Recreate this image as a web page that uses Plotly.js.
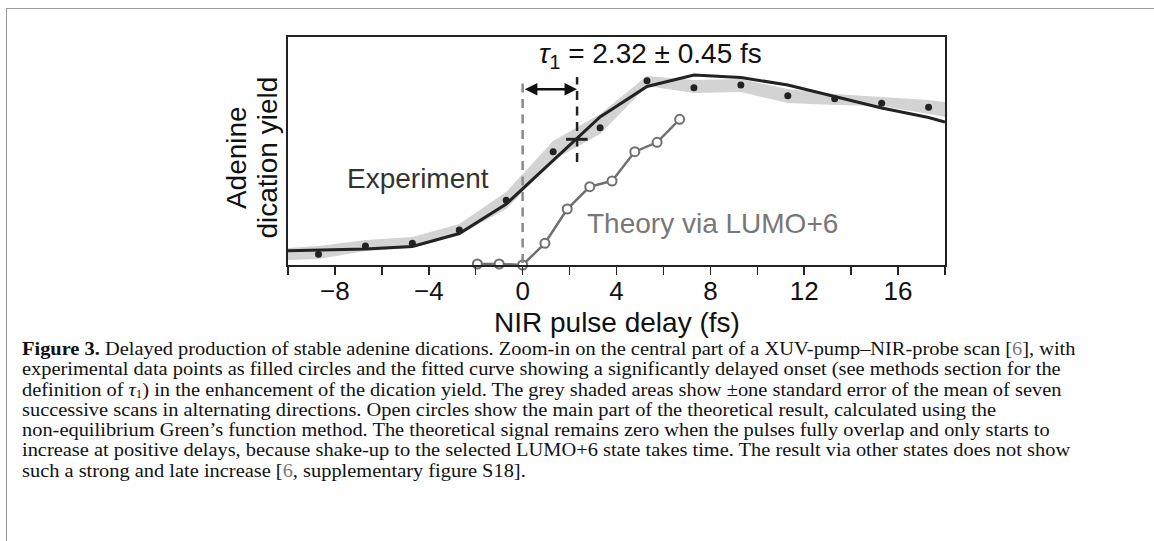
<!DOCTYPE html>
<html><head><meta charset="utf-8">
<script src="https://cdn.plot.ly/plotly-3.0.1.min.js"></script>
<style>
html,body{margin:0;padding:0;background:#fff;}
#page{position:relative;width:1154px;height:541px;overflow:hidden;background:#fff;}
#frame{position:absolute;left:6px;top:8px;width:1148px;height:533px;border-top:1px solid #9a9a9a;border-left:1px solid #9a9a9a;}
#chart{position:absolute;left:0;top:0;width:1154px;height:541px;}
#caption{position:absolute;left:22px;top:339px;font-family:"Liberation Serif","DejaVu Serif",serif;font-size:19px;line-height:20.3px;color:#111;white-space:nowrap;transform:scaleX(1.074);transform-origin:0 0;}
#caption div{height:20.3px;}
#caption .sb{font-size:12px;line-height:12px;display:inline-block;vertical-align:baseline;position:relative;top:2px;}
.ref{color:#7a7a7a;}
</style></head><body>
<div id="page">
<div id="frame"></div>
<div id="chart"></div>
<div id="caption">
<div><b>Figure 3.</b> Delayed production of stable adenine dications. Zoom-in on the central part of a XUV-pump–NIR-probe scan [<span class="ref">6</span>], with</div>
<div>experimental data points as filled circles and the fitted curve showing a significantly delayed onset (see methods section for the</div>
<div>definition of <i>τ</i><span class="sb">1</span>) in the enhancement of the dication yield. The grey shaded areas show ±one standard error of the mean of seven</div>
<div>successive scans in alternating directions. Open circles show the main part of the theoretical result, calculated using the</div>
<div>non-equilibrium Green’s function method. The theoretical signal remains zero when the pulses fully overlap and only starts to</div>
<div>increase at positive delays, because shake-up to the selected LUMO+6 state takes time. The result via other states does not show</div>
<div>such a strong and late increase [<span class="ref">6</span>, supplementary figure S18].</div>
</div>
</div>
<script>
// ---- data (yield in arbitrary units) ----
const delayExp = [-8.7, -6.7, -4.7, -2.7, -0.7, 1.3, 3.3, 5.3, 7.3, 9.3, 11.3, 13.3, 15.3, 17.3];
const yieldExp = [10.7, 19, 21.7, 35, 64.7, 113.3, 137.3, 184.3, 177.3, 180, 169.3, 166.3, 161.7, 157.7];

const delayBand = [-10, -8.7, -6.7, -4.7, -2.7, -0.7, 1.3, 3.3, 5.3, 7.3, 9.3, 11.3, 13.3, 15.3, 17.3, 18];
const bandUpper = [17, 19, 25, 28, 41, 73, 124, 151, 189, 185, 186, 176, 171, 168, 165, 163];
const bandLower = [5, 6, 14, 17, 30, 56, 105, 131, 179, 172, 173, 162, 160, 159, 151, 148];

const delayFit = [-10, -8.7, -6.7, -4.7, -2.7, -0.7, 1.3, 3.3, 5.3, 7.3, 9.3, 11.3, 13.3, 15.3, 17.3, 18];
const yieldFit = [14.3, 14.7, 16, 18.5, 31.5, 61, 104, 148, 178.5, 190, 187.5, 180, 168.5, 157, 147.5, 143];

const delayTheory = [-1.93, -1.0, 0, 0.95, 1.9, 2.86, 3.81, 4.78, 5.73, 6.69];
const yieldTheory = [1, 1, 0, 21.7, 56, 78.3, 84, 113.3, 122.7, 145.7];

const tau1 = 2.32;
const tau1Err = 0.45;
const yieldAtTau = 125.7;

const xTickVals = [-10, -8, -6, -4, -2, 0, 2, 4, 6, 8, 10, 12, 14, 16, 18];
const xTickText = ['', '\u22128', '', '\u22124', '', '0', '', '4', '', '8', '', '12', '', '16', ''];

const FONT = '"Liberation Sans", Arial, sans-serif';

const traces = [
  {x: delayBand, y: bandUpper, mode: 'lines', line: {width: 0, color: 'rgba(0,0,0,0)'}, hoverinfo: 'skip', showlegend: false},
  {x: delayBand, y: bandLower, mode: 'lines', line: {width: 0, color: 'rgba(0,0,0,0)'}, fill: 'tonexty', fillcolor: '#d3d3d3', hoverinfo: 'skip', showlegend: false},
  {x: delayFit, y: yieldFit, mode: 'lines', line: {color: '#222', width: 3}, showlegend: false},
  {x: delayExp, y: yieldExp, mode: 'markers', marker: {color: '#222', size: 7}, showlegend: false},
  {x: delayTheory, y: yieldTheory, mode: 'lines+markers', cliponaxis: false,
   line: {color: '#6f6f6f', width: 2.5},
   marker: {symbol: 'circle', size: 9, color: '#fff', line: {color: '#6f6f6f', width: 2}}, showlegend: false}
];

const layout = {
  width: 1154, height: 541,
  margin: {l: 288, r: 209, t: 37, b: 276, pad: 0},
  paper_bgcolor: 'rgba(0,0,0,0)', plot_bgcolor: 'rgba(0,0,0,0)',
  font: {family: FONT, color: '#111'},
  xaxis: {range: [-10, 18], showgrid: false, zeroline: false, showline: true, mirror: true,
          linecolor: '#222', linewidth: 2, ticks: 'outside', ticklen: 8, tickwidth: 1.5, tickcolor: '#222',
          ticklabelstandoff: -6,
          tickvals: xTickVals, ticktext: xTickText, tickfont: {family: FONT, size: 26, color: '#111'}},
  yaxis: {range: [0, 228], showgrid: false, zeroline: false, showline: true, mirror: true,
          linecolor: '#222', linewidth: 2, ticks: '', showticklabels: false},
  shapes: [
    {type: 'line', xref: 'x', yref: 'y', x0: 0, x1: 0, y0: 2, y1: 188,
     line: {color: '#8a8a8a', width: 2.5, dash: '9px,6.5px'}},
    {type: 'line', xref: 'x', yref: 'y', x0: tau1, x1: tau1, y0: 103, y1: 188,
     line: {color: '#222', width: 2.5, dash: '9px,6.5px'}},
    {type: 'line', xref: 'x', yref: 'y', x0: tau1 - 0.47, x1: tau1 + 0.45, y0: yieldAtTau, y1: yieldAtTau,
     line: {color: '#222', width: 3}}
  ],
  annotations: [
    {xref: 'x', yref: 'y', x: tau1, y: 175.7, ax: 0.03, ay: 175.7, axref: 'x', ayref: 'y',
     text: '', showarrow: true, arrowhead: 2, arrowside: 'end+start', arrowsize: 1, arrowwidth: 2.5, arrowcolor: '#111', standoff: 0, startstandoff: 0},
    {xref: 'x', yref: 'y', x: 5.44, y: 210, showarrow: false, xanchor: 'center', yanchor: 'middle',
     text: '<i>τ</i><sub>1</sub> = ' + tau1.toFixed(2) + ' ± ' + tau1Err.toFixed(2) + ' fs', font: {family: FONT, size: 28, color: '#111'}},
    {xref: 'x', yref: 'y', x: -4.48, y: 87, showarrow: false, xanchor: 'center', yanchor: 'middle',
     text: 'Experiment', font: {family: FONT, size: 28, color: '#333'}},
    {xref: 'x', yref: 'y', x: 8.1, y: 42, showarrow: false, xanchor: 'center', yanchor: 'middle',
     text: 'Theory via LUMO+6', font: {family: FONT, size: 28, color: '#777'}},
    {xref: 'paper', yref: 'paper', x: 0.5, y: -0.254, showarrow: false, xanchor: 'center', yanchor: 'middle',
     text: 'NIR pulse delay (fs)', font: {family: FONT, size: 28, color: '#111'}},
    {xref: 'paper', yref: 'paper', x: -0.0791, y: 0.469, showarrow: false, xanchor: 'center', yanchor: 'middle', textangle: -90,
     text: 'Adenine', font: {family: FONT, size: 28, color: '#111'}},
    {xref: 'paper', yref: 'paper', x: -0.0312, y: 0.469, showarrow: false, xanchor: 'center', yanchor: 'middle', textangle: -90,
     text: 'dication yield', font: {family: FONT, size: 28, color: '#111'}}
  ]
};

Plotly.newPlot('chart', traces, layout, {staticPlot: true, displayModeBar: false});
</script>
</body></html>
